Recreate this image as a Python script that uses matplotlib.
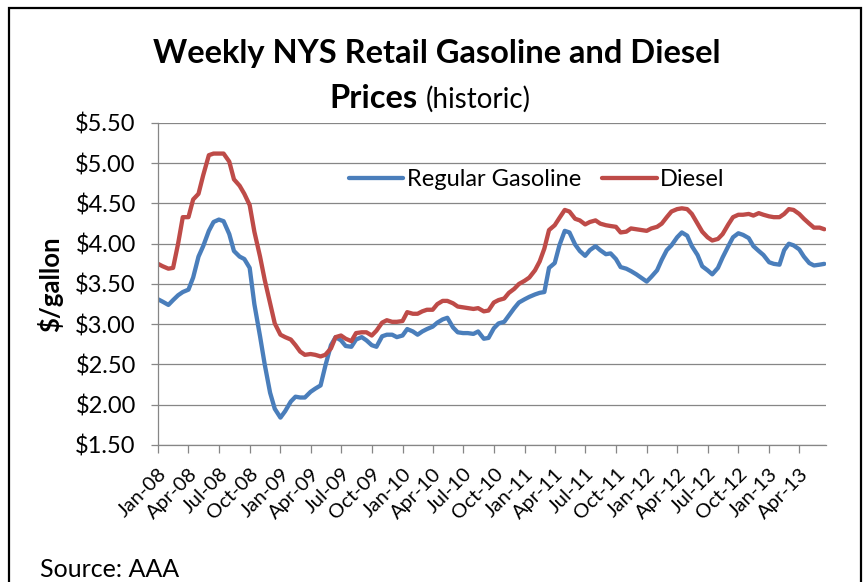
#Weekly NYS retail gasoline / diesel prices
import numpy as np
import pandas as pd
import matplotlib
matplotlib.use("Agg")
import matplotlib.pyplot as plt
import matplotlib.dates as mdates
from matplotlib.patches import Rectangle

firstDay = "2008-01-01"
gasoline = [3.31, 3.28, 3.24, 3.30, 3.36, 3.40, 3.43, 3.58, 3.84, 3.97,
            4.16, 4.27, 4.30, 4.28, 4.12, 3.91, 3.84, 3.81, 3.70, 3.25,
            2.85, 2.50, 2.15, 1.95, 1.84, 1.92, 2.04, 2.10, 2.09, 2.09,
            2.16, 2.20, 2.24, 2.48,
            2.74, 2.84, 2.80, 2.73, 2.72, 2.81, 2.84, 2.80, 2.74, 2.72,
            2.85, 2.87, 2.87, 2.84, 2.86, 2.94, 2.91, 2.87, 2.91, 2.94,
            2.97, 3.02, 3.06, 3.08, 2.96, 2.90, 2.89, 2.89, 2.88, 2.91,
            2.82, 2.83, 2.95,
            3.01, 3.03, 3.11, 3.20, 3.27, 3.31, 3.34, 3.37, 3.39, 3.40,
            3.70, 3.76, 3.98, 4.16, 4.14, 3.99, 3.91, 3.85, 3.92, 3.97,
            3.92, 3.87, 3.88, 3.81, 3.71, 3.69, 3.66, 3.62, 3.58, 3.53,
            3.59, 3.67, 3.80, 3.92,
            3.98, 4.08, 4.14, 4.10, 3.97, 3.86, 3.72, 3.67, 3.62, 3.70,
            3.83, 3.97, 4.08, 4.13, 4.11, 4.07, 3.97, 3.91, 3.86, 3.77,
            3.75, 3.74, 3.92, 4.00, 3.98, 3.93, 3.84, 3.76, 3.73, 3.74,
            3.75]
diesel = [3.75, 3.72, 3.69, 3.70, 4.00, 4.33, 4.33, 4.55, 4.62, 4.85,
          5.10, 5.12, 5.12, 5.12, 5.02, 4.80, 4.72, 4.62, 4.48, 4.15,
          3.84, 3.55, 3.26, 3.01, 2.87, 2.84, 2.81, 2.74, 2.66, 2.62,
          2.63, 2.62, 2.60, 2.62,
          2.70, 2.84, 2.86, 2.82, 2.79, 2.89, 2.90, 2.90, 2.86, 2.92,
          3.02, 3.05, 3.03, 3.03, 3.04, 3.15, 3.13, 3.13, 3.16, 3.18,
          3.18, 3.25, 3.29, 3.29, 3.26, 3.22, 3.21, 3.20, 3.19, 3.20,
          3.16, 3.17, 3.27,
          3.30, 3.32, 3.39, 3.44, 3.50, 3.54, 3.58, 3.67, 3.78, 3.94,
          4.17, 4.23, 4.32, 4.42, 4.40, 4.31, 4.29, 4.24, 4.27, 4.29,
          4.25, 4.23, 4.22, 4.21, 4.14, 4.15, 4.19, 4.18, 4.17, 4.16,
          4.19, 4.21, 4.25, 4.33,
          4.40, 4.43, 4.44, 4.43, 4.37, 4.25, 4.15, 4.08, 4.04, 4.06,
          4.12, 4.24, 4.33, 4.36, 4.36, 4.37, 4.35, 4.38, 4.36, 4.34,
          4.33, 4.33, 4.37, 4.43, 4.42, 4.37, 4.31, 4.25, 4.20, 4.20,
          4.18]
seriesNames = ["Regular Gasoline", "Diesel"]
yTicks = [1.5, 2.0, 2.5, 3.0, 3.5, 4.0, 4.5, 5.0, 5.5]
tickStart, tickEnd = "2008-01-01", "2013-04-01"
xEnd = "2013-06-20"

cBlue = "#4A7EBB"
cRed = "#BE4B48"
cGrid = "#868686"
fName = "Lato"

dates = pd.date_range(firstDay, periods=len(gasoline), freq="SMS")
tDates = pd.date_range(tickStart, tickEnd, freq="QS")

fig = plt.figure(figsize=(8.64, 5.82), dpi=100)
plt.rcParams['font.family'] = [fName, 'DejaVu Sans']

Ax = fig.add_axes([0.1829, 0.2354, 0.7731, 0.5533])
Ax.plot(dates, gasoline, color=cBlue, lw=3.1, label=seriesNames[0], solid_capstyle='round')
Ax.plot(dates, diesel, color=cRed, lw=3.1, label=seriesNames[1], solid_capstyle='round')

Ax.set_xlim(pd.Timestamp(firstDay), pd.Timestamp(xEnd))
Ax.set_ylim(yTicks[0], yTicks[-1])
Ax.set_yticks(yTicks)
Ax.set_yticklabels(["$%.2f" % v for v in yTicks], fontsize=17)
Ax.set_xticks(tDates)
Ax.set_xticklabels([d.strftime("%b-%y") for d in tDates], fontsize=14.5,
                   rotation=45, ha='right', va='top', rotation_mode='anchor')
Ax.grid(axis='y', color=cGrid, lw=0.9)
Ax.set_axisbelow(True)
for s in ["top", "right"]:
	Ax.spines[s].set_visible(False)
for s in ["left", "bottom"]:
	Ax.spines[s].set_color(cGrid)
	Ax.spines[s].set_linewidth(0.9)
Ax.tick_params(axis='y', length=5, width=0.9, color=cGrid, pad=11)
Ax.tick_params(axis='x', length=5.5, width=0.9, color=cGrid, pad=9)
Ax.set_ylabel("$/gallon", fontsize=18.5, fontweight='bold')
Ax.yaxis.set_label_coords(-0.142, 0.5)

leg = Ax.legend(loc='center', bbox_to_anchor=(0.567, 0.823), ncol=2, frameon=False,
                fontsize=17, handlelength=2.3, handletextpad=0.15, columnspacing=0.9)

#title, second line mixes bold and regular
fig.text(0.505, 0.8918, "Weekly NYS Retail Gasoline and Diesel", ha='center', va='baseline',
         fontsize=23.5, fontweight='bold')
fig.text(417/864., 0.8144, "Prices", ha='right', va='baseline', fontsize=23.5, fontweight='bold')
fig.text(426/864., 0.8144, "(historic)", ha='left', va='baseline', fontsize=20)

fig.text(40/864., 5/582., "Source: AAA", ha='left', va='baseline', fontsize=18)

fig.patches.append(Rectangle((8.5/864., -0.1), 852/864., 1.0854, transform=fig.transFigure,
                             fill=False, ec='black', lw=1.6))

fig.savefig("out.png", dpi=100)
